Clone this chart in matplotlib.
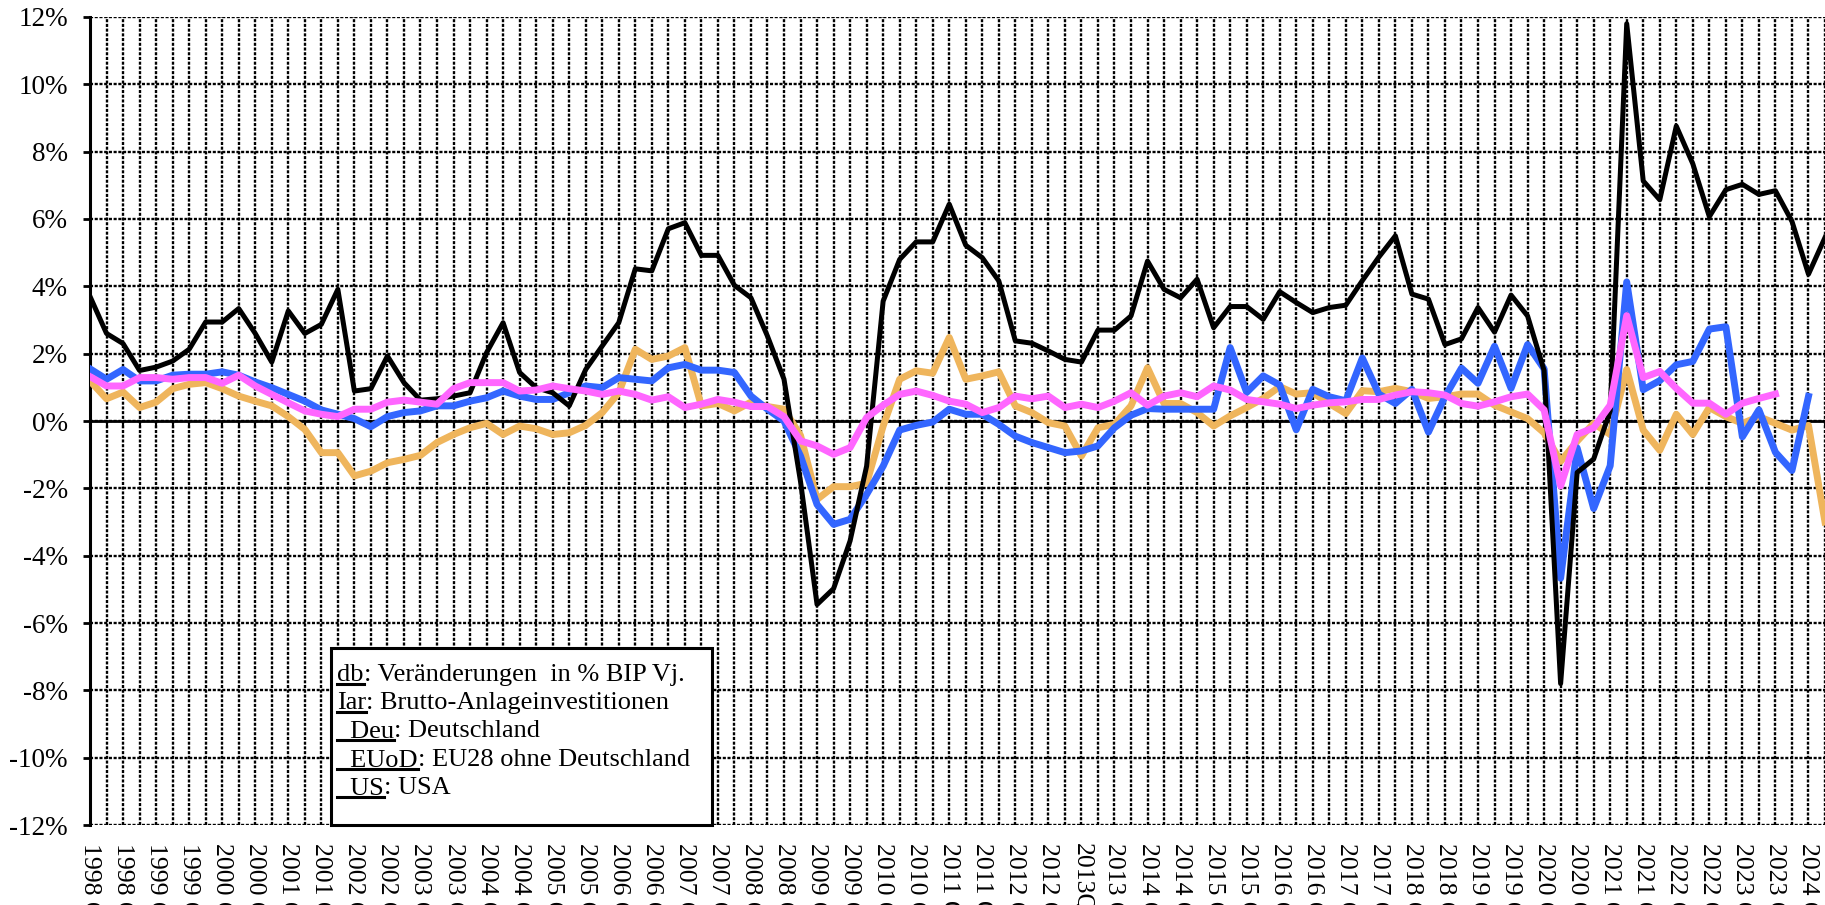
import numpy as np
import matplotlib
matplotlib.use('Agg')
import matplotlib.pyplot as plt
from matplotlib.lines import Line2D
from matplotlib.patches import Rectangle
from matplotlib.ticker import FuncFormatter

plt.rcParams['font.family'] = ['Liberation Serif', 'DejaVu Serif']

# quarterly y/y changes in %, 1998Q1 ...
black = [3.7, 2.6, 2.3, 1.5, 1.6, 1.78, 2.13, 2.94, 2.94, 3.34,
         2.6, 1.75, 3.27, 2.6, 2.87, 3.91, 0.89, 0.96, 1.93, 1.14,
         0.62, 0.66, 0.74, 0.84, 2.03, 2.92, 1.44, 0.99, 0.84, 0.45,
         1.53, 2.23, 2.92, 4.52, 4.46, 5.71, 5.89, 4.92, 4.92, 4.03,
         3.66, 2.52, 1.24, -1.8, -5.45, -4.98, -3.56, -1.34, 3.56, 4.8,
         5.32, 5.32, 6.44, 5.22, 4.85, 4.16, 2.38, 2.31, 2.08, 1.83,
         1.75, 2.7, 2.7, 3.12, 4.75, 3.91, 3.66, 4.21, 2.77, 3.4,
         3.4, 3.02, 3.84, 3.52, 3.22, 3.37, 3.44, 4.17, 4.87, 5.5,
         3.77, 3.62, 2.27, 2.44, 3.37, 2.64, 3.74, 3.12, 1.5, -7.8,
         -1.53, -1.13, 0.3, 11.8, 7.13, 6.57, 8.76, 7.64, 6.07, 6.87,
         7.03, 6.73, 6.84, 5.93, 4.36, 5.45]
orange = [1.19, 0.66, 0.86, 0.4, 0.56, 0.96, 1.09, 1.14, 0.96, 0.74,
          0.59, 0.45, 0.13, -0.25, -0.94, -0.94, -1.63, -1.49, -1.24, -1.14,
          -1.02, -0.64, -0.4, -0.2, -0.07, -0.4, -0.15, -0.23, -0.4, -0.35,
          -0.13, 0.25, 0.84, 2.13, 1.83, 1.93, 2.18, 0.45, 0.52, 0.3,
          0.56, 0.43, 0.35, -0.43, -2.33, -1.95, -1.95, -1.85, -0.15, 1.24,
          1.49, 1.42, 2.48, 1.24, 1.34, 1.46, 0.45, 0.25, -0.05, -0.15,
          -1.04, -0.2, -0.1, 0.45, 1.58, 0.52, 0.52, 0.25, -0.15, 0.15,
          0.4, 0.67, 1.02, 0.8, 0.84, 0.52, 0.22, 0.9, 0.87, 0.97,
          0.87, 0.67, 0.72, 0.8, 0.8, 0.47, 0.27, 0.07, -0.35, -1.2,
          -0.6, -0.07, -0.4, 1.53, -0.27, -0.87, 0.2, -0.4, 0.4, 0.13,
          -0.07, 0.13, -0.07, -0.27, -0.13, -3.0]
blue = [1.55, 1.24, 1.53, 1.19, 1.19, 1.36, 1.39, 1.39, 1.46, 1.36,
        1.16, 0.99, 0.79, 0.59, 0.33, 0.2, 0.07, -0.17, 0.13, 0.25,
        0.3, 0.45, 0.45, 0.59, 0.69, 0.89, 0.74, 0.64, 0.64, 0.84,
        1.04, 0.99, 1.29, 1.24, 1.19, 1.58, 1.68, 1.51, 1.51, 1.44,
        0.74, 0.35, 0.0, -1.04, -2.48, -3.07, -2.92, -2.18, -1.34, -0.27,
        -0.13, -0.03, 0.35, 0.2, 0.2, -0.1, -0.45, -0.64, -0.79, -0.94,
        -0.89, -0.74, -0.2, 0.17, 0.37, 0.35, 0.35, 0.35, 0.35, 2.18,
        0.85, 1.34, 1.07, -0.26, 0.94, 0.72, 0.6, 1.87, 0.8, 0.52,
        0.94, -0.33, 0.72, 1.57, 1.12, 2.22, 0.97, 2.27, 1.55, -4.67,
        -0.8, -2.6, -1.33, 4.13, 0.93, 1.2, 1.67, 1.77, 2.73, 2.8,
        -0.47, 0.33, -0.93, -1.47, 0.73]
magenta = [1.32, 1.04, 1.04, 1.29, 1.29, 1.24, 1.29, 1.29, 1.12, 1.36,
           1.04, 0.79, 0.54, 0.3, 0.2, 0.13, 0.35, 0.35, 0.56, 0.62,
           0.56, 0.5, 0.96, 1.14, 1.14, 1.14, 0.89, 0.92, 1.04, 0.96,
           0.89, 0.79, 0.89, 0.79, 0.62, 0.72, 0.4, 0.5, 0.64, 0.56,
           0.43, 0.43, 0.13, -0.59, -0.74, -0.99, -0.79, 0.1, 0.47, 0.79,
           0.89, 0.76, 0.59, 0.5, 0.25, 0.4, 0.74, 0.66, 0.74, 0.4,
           0.5, 0.4, 0.59, 0.84, 0.47, 0.74, 0.84, 0.72, 1.04, 0.92,
           0.64, 0.57, 0.5, 0.37, 0.47, 0.54, 0.57, 0.64, 0.64, 0.77,
           0.87, 0.84, 0.77, 0.52, 0.44, 0.57, 0.72, 0.8, 0.33, -1.93,
           -0.4, -0.2, 0.47, 3.13, 1.29, 1.47, 0.97, 0.53, 0.53, 0.2,
           0.53, 0.67, 0.8]

quarters = [f"{1998 + k // 4} Q{k % 4 + 1}" for k in range(len(black))]
quarters[60] = "2013Q1"

legend_keys = ['db', 'Iar', '_Deu', '_EUoD', '_US']
legend_texts = [': Veränderungen  in % BIP Vj.', ': Brutto-Anlageinvestitionen',
                ': Deutschland', ': EU28 ohne Deutschland', ': USA']

W, H = 1825, 905
fig = plt.figure(figsize=(W / 100, H / 100), dpi=100)
ax = fig.add_axes([90 / W, 1 - 825 / H, 1 - 90 / W, (825 - 17) / H])

ax.plot(np.arange(len(orange)), orange, color='#EFB55C', lw=5.0, zorder=3)
ax.plot(np.arange(len(blue)), blue, color='#3366FF', lw=5.0, zorder=4)
ax.plot(np.arange(len(black)), black, color='black', lw=3.6, zorder=5)
ax.plot(np.arange(len(magenta)), magenta, color='#FF66FF', lw=5.0, zorder=6)

ax.set_xlim(0, (W - 90) / 16.55)
ax.set_ylim(-12, 12)
ax.set_yticks(np.arange(-12, 13, 2))
ax.yaxis.set_major_formatter(FuncFormatter(lambda v, p: f"{int(round(v))}%"))
ax.tick_params(axis='y', direction='out', length=5, width=2, pad=11, labelsize=19.5)

# category axis crossing at zero
ax.set_xticks(np.arange(len(black)))
ax.tick_params(axis='x', direction='out', length=5, width=1.5, labelbottom=False)
ax.spines['bottom'].set_position(('data', 0))
ax.spines['bottom'].set_linewidth(2)
ax.spines['left'].set_linewidth(2.2)
ax.spines['top'].set_visible(False)
ax.spines['right'].set_visible(False)
ax.grid(True, color='black', linestyle=(0, (1.3, 0.7)), linewidth=1.7, zorder=1)
ax.set_axisbelow(True)

sec = ax.secondary_xaxis(0.0)
sec.set_xticks(np.arange(0, len(black), 2))
sec.set_xticklabels(quarters[::2], rotation=270, fontsize=18.5)
sec.tick_params(length=0, pad=13)
sec.spines['bottom'].set_visible(False)

# text box with the series codes
box = Rectangle((331 / W, 1 - 825 / H), (712 - 331) / W, (825 - 648) / H,
                transform=fig.transFigure, facecolor='white', edgecolor='black',
                linewidth=2.2, zorder=10, clip_on=False)
ax.add_patch(box)

fig.canvas.draw()
renderer = fig.canvas.get_renderer()
for k, (key, txt) in enumerate(zip(legend_keys, legend_texts)):
    ybase = 681 + 28.2 * k
    yf = 1 - ybase / H
    t = fig.text(337 / W, yf, key, fontsize=19, va='baseline', ha='left', zorder=11)
    bb = t.get_window_extent(renderer)
    fig.text(bb.x1 / W, yf, txt, fontsize=19, va='baseline', ha='left', zorder=11)
    yu = 1 - (ybase + 3) / H
    fig.add_artist(Line2D([bb.x0 / W, bb.x1 / W], [yu, yu], transform=fig.transFigure,
                          color='black', linewidth=2.2, zorder=11))

fig.savefig('out.png', dpi=100)
